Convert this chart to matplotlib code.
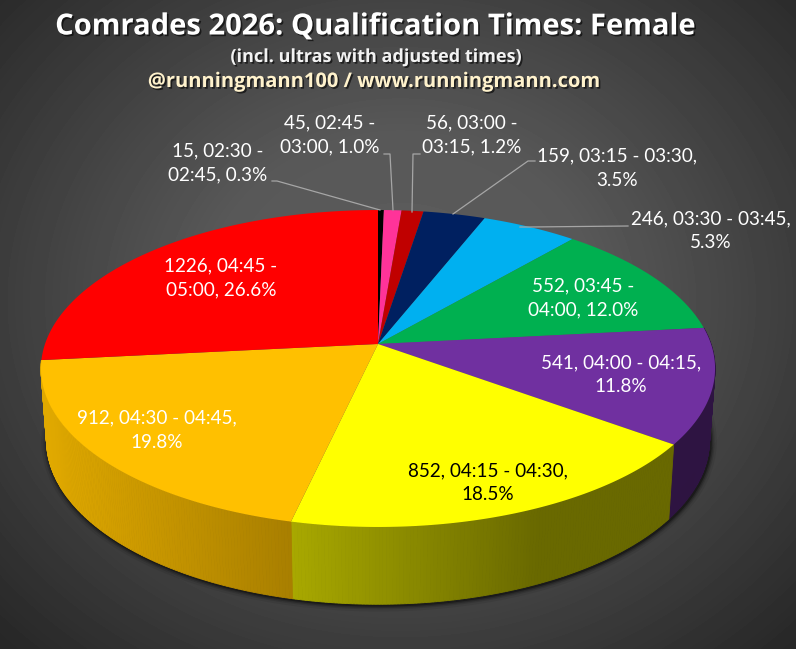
#!/usr/bin/env python3
"""Comrades 2026 female qualification times as a perspective 3D pie."""
import matplotlib

matplotlib.use("Agg")
import matplotlib.patheffects as pe
import matplotlib.pyplot as plt
import numpy as np

COUNTS = [15, 45, 56, 159, 246, 552, 541, 852, 912, 1226]
LABELS = [
    "15, 02:30 -\n02:45, 0.3%",
    "45, 02:45 -\n03:00, 1.0%",
    "56, 03:00 -\n03:15, 1.2%",
    "159, 03:15 - 03:30,\n3.5%",
    "246, 03:30 - 03:45,\n5.3%",
    "552, 03:45 -\n04:00, 12.0%",
    "541, 04:00 - 04:15,\n11.8%",
    "852, 04:15 - 04:30,\n18.5%",
    "912, 04:30 - 04:45,\n19.8%",
    "1226, 04:45 -\n05:00, 26.6%",
]
COLORS = ["#000000", "#ff3399", "#c00000", "#002060", "#00b0f0",
          "#00b050", "#7030a0", "#ffff00", "#ffc000", "#ff0000"]
LABEL_COLORS = ["white"] * 7 + ["black"] + ["white"] * 2
LABEL_POS = [(218, 163), (330, 135), (472, 135), (617, 168), (711, 231),
             (583, 298), (621, 375), (488, 483), (157, 430), (221, 278)]
LEADERS = [
    [(272, 181), (277, 181), (380, 210)],
    [(384, 154), (390, 154), (393, 210)],
    [(420, 154), (413, 154), (412, 212)],
    [(535, 161), (528, 161), (453, 214)],
    [(628, 226), (530, 227), (520, 227)],
]
# only these slices show a wall in the reference
WALL_SLICES = [6, 7, 8]

W, H = 796, 649
CX = 378
# perspective of the top face and the bottom ring
PERSP = 0.1546
TOP = dict(cy=344, rx=333, ry=154.7)
BOTTOM = dict(cy=415, rx=327.5, ry=160)
GRAD_X = [45, 292, 540, 720]
GRAD_F = [0.88, 0.66, 0.41, 0.41]


def project(theta, ring):
    # theta runs clockwise from 12 o'clock, radians
    x, y = np.sin(theta), np.cos(theta)
    d = 1 + PERSP * y
    return CX + ring["rx"] * x / d, ring["cy"] - ring["ry"] * y / d


def shade(color, f):
    return tuple(c * f for c in matplotlib.colors.to_rgb(color))


fig = plt.figure(figsize=(W / 100, H / 100), dpi=100)
ax = fig.add_axes([0, 0, 1, 1])
ax.set_xlim(0, W)
ax.set_ylim(H, 0)
ax.axis("off")

# background, radial from the middle
yy, xx = np.mgrid[0:H, 0:W]
r = np.hypot((xx - 400) / 560, (yy - 300) / 480)
bg = np.interp(r, [0, 0.35, 1.0], [0.37, 0.345, 0.155])
ax.imshow(bg, cmap="gray", vmin=0, vmax=1, extent=(0, W, H, 0), aspect="auto", zorder=0)

fracs = np.array(COUNTS) / np.sum(COUNTS)
edges = np.concatenate([[0], np.cumsum(fracs)]) * 2 * np.pi

# soft shadow under the front rim
t = np.linspace(edges[WALL_SLICES[0]], edges[WALL_SLICES[-1] + 1], 300)
sx, sy = project(t, BOTTOM)
for lw, a in [(9, 0.07), (6, 0.12), (4, 0.2), (2, 0.35)]:
    ax.plot(sx + 1, sy + 1, color="black", lw=lw, alpha=a, zorder=1, solid_capstyle="round")

# side walls, one thin quad per step so the gradient follows the rim
for i in WALL_SLICES:
    a0, a1 = edges[i], edges[i + 1]
    ts = np.linspace(a0, a1, max(2, int(np.degrees(a1 - a0) * 2)) + 1)
    for t0, t1 in zip(ts[:-1], ts[1:]):
        tx0, ty0 = project(t0, TOP)
        tx1, ty1 = project(t1, TOP)
        bx0, by0 = project(t0, BOTTOM)
        bx1, by1 = project(t1, BOTTOM)
        f = np.interp((tx0 + tx1) / 2, GRAD_X, GRAD_F)
        c = shade(COLORS[i], f)
        ax.fill([tx0, tx1, bx1, bx0], [ty0, ty1, by1, by0], color=c, lw=0.6, zorder=2)

# top face
for i, col in enumerate(COLORS):
    ts = np.linspace(edges[i], edges[i + 1], 120)
    px, py = project(ts, TOP)
    ax.fill(np.r_[CX, px], np.r_[TOP["cy"], py], color=col, lw=0, zorder=3)

for pts in LEADERS:
    xs, ys = zip(*pts)
    ax.plot(xs, ys, color="#a6a6a6", lw=0.9, zorder=4)

for lab, col, (lx, ly) in zip(LABELS, LABEL_COLORS, LABEL_POS):
    ax.text(lx, ly, lab, color=col, ha="center", va="center", fontsize=13.6,
            family="Lato", linespacing=1.5, zorder=5)

shadow = [pe.SimplePatchShadow(offset=(1.2, -1.2), alpha=0.6, shadow_rgbFace="black"), pe.Normal()]
for txt, y, size, col in [
    ("Comrades 2026: Qualification Times: Female", 27, 21.0, "white"),
    ("(incl. ultras with adjusted times)", 57, 13.0, "#f2f2f2"),
    ("@runningmann100 / www.runningmann.com", 82, 14.5, "#fff2cc"),
]:
    ax.text(375, y, txt, color=col, ha="center", va="center", fontsize=size,
            family="Open Sans", weight="bold", zorder=5, path_effects=shadow)

fig.savefig("out.png", dpi=100)
